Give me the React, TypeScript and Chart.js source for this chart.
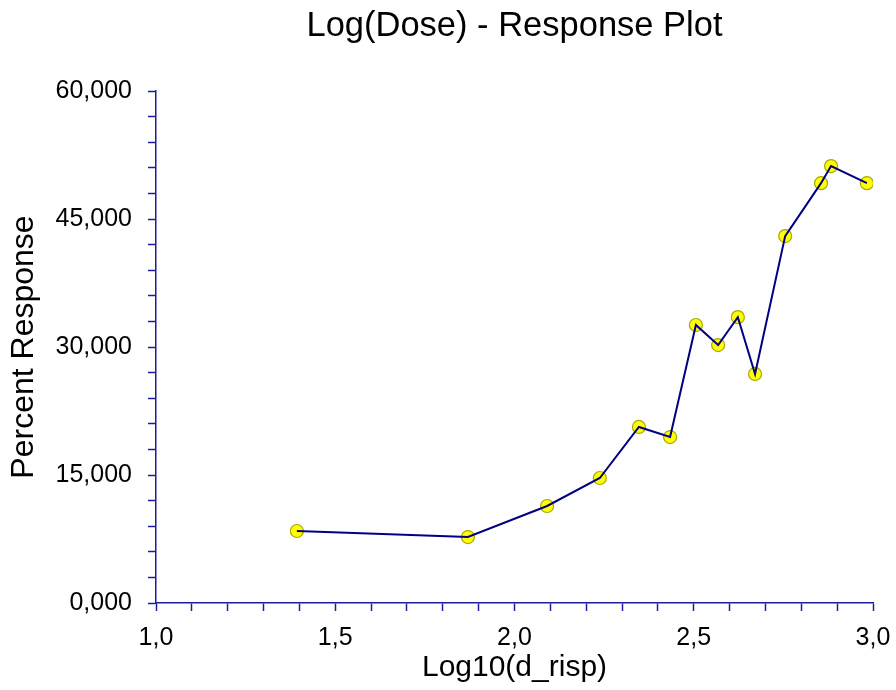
import React, { useEffect, useRef } from "react";
import { Chart, registerables } from "chart.js";

Chart.register(...registerables);

const logDose: number[] = [1.393, 1.870, 2.091, 2.238, 2.347, 2.434, 2.506, 2.568, 2.623, 2.671, 2.755, 2.855, 2.883, 2.983];
const percentResponse: number[] = [8.44, 7.73, 11.37, 14.65, 20.63, 19.45, 32.58, 30.23, 33.5, 26.84, 43.0, 49.2, 51.2, 49.2];

const chartTitle = "Log(Dose) - Response Plot";
const xTitle = "Log10(d_risp)";
const yTitle = "Percent Response";

const AXIS = "#1c1c9c";
const FONT = "'Liberation Sans', Arial, sans-serif";

const titlePlugin = {
  id: "customTitle",
  afterDraw(chart: any) {
    const { ctx, chartArea } = chart;
    ctx.save();
    ctx.font = `34.5px ${FONT}`;
    ctx.fillStyle = "#000";
    ctx.textAlign = "center";
    ctx.textBaseline = "alphabetic";
    ctx.fillText(chartTitle, (chartArea.left + chartArea.right) / 2, 36);
    ctx.restore();
  },
};

export default function App() {
  const ref = useRef<HTMLCanvasElement | null>(null);
  useEffect(() => {
    if (!ref.current) return;
    const pts = logDose.map((x, i) => ({ x, y: percentResponse[i] }));
    const chart = new Chart(ref.current, {
      type: "scatter",
      data: {
        datasets: [
          {
            data: pts,
            showLine: true,
            borderColor: "#000080",
            borderWidth: 2,
            pointRadius: 0,
            pointHoverRadius: 0,
            fill: false,
          },
          {
            data: pts,
            showLine: false,
            pointRadius: 6.5,
            pointBackgroundColor: "#ffff00",
            pointBorderColor: "#a8a800",
            pointBorderWidth: 1.2,
          },
        ],
      },
      options: {
        animation: false,
        responsive: false,
        maintainAspectRatio: false,
        layout: { padding: { left: 0, right: 23, top: 91, bottom: 0 } },
        plugins: {
          legend: { display: false },
          title: { display: false },
          tooltip: { enabled: false },
        },
        scales: {
          x: {
            type: "linear",
            min: 1,
            max: 3,
            afterFit: (s: any) => { s.height = 87; s.paddingRight = 0; s.paddingLeft = 0; },
            border: { color: AXIS, width: 1.5 },
            grid: { drawOnChartArea: false, drawTicks: true, tickLength: 8, color: AXIS, tickWidth: 1.5 },
            ticks: {
              stepSize: 0.1,
              autoSkip: false,
              maxRotation: 0,
              padding: 12,
              color: "#000",
              font: { family: FONT, size: 25 },
              callback: (v: any) => {
                const n = Math.round(Number(v) * 10);
                return n % 5 === 0 ? (n / 10).toFixed(1).replace(".", ",") : "";
              },
            },
            title: {
              display: true,
              text: xTitle,
              color: "#000",
              font: { family: FONT, size: 30 },
              padding: { top: 0, bottom: 4 },
            },
          },
          y: {
            type: "linear",
            min: 0,
            max: 60,
            afterFit: (s: any) => { s.width = 156; s.paddingTop = 0; s.paddingBottom = 0; },
            border: { color: AXIS, width: 1.5 },
            grid: { drawOnChartArea: false, drawTicks: true, tickLength: 8, color: AXIS, tickWidth: 1.5 },
            ticks: {
              stepSize: 3,
              autoSkip: false,
              padding: 16,
              color: "#000",
              font: { family: FONT, size: 25 },
              callback: (v: any) => {
                const n = Math.round(Number(v));
                return n % 15 === 0 ? n.toFixed(3).replace(".", ",") : "";
              },
            },
            title: {
              display: true,
              text: yTitle,
              color: "#000",
              font: { family: FONT, size: 32 },
              padding: { top: 5, bottom: 0 },
            },
          },
        },
      },
      plugins: [titlePlugin],
    });
    return () => chart.destroy();
  }, []);
  return (
    <div style={{ position: "fixed", left: 0, top: 0, width: 896, height: 690, background: "#fff" }}>
      <canvas ref={ref} width={896} height={690} style={{ width: 896, height: 690 }} />
    </div>
  );
}
